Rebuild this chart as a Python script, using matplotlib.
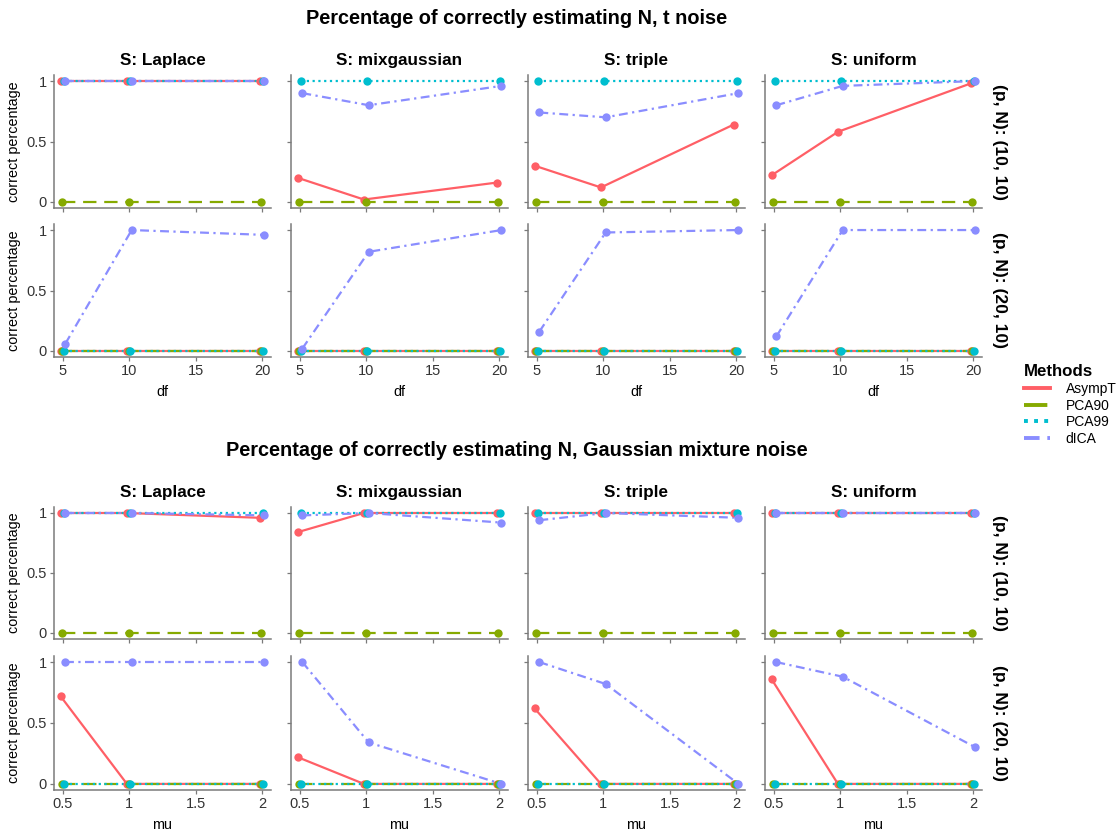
import matplotlib.pyplot as plt
from matplotlib.lines import Line2D

plt.rcParams['font.family'] = ['Liberation Sans', 'DejaVu Sans']

methods = ['AsympT', 'PCA90', 'PCA99', 'dICA']
sources = ['Laplace', 'mixgaussian', 'triple', 'uniform']
settings = ['(p, N): (10, 10)', '(p, N): (20, 10)']

df_vals = [5, 10, 20]
mu_vals = [0.5, 1, 2]

# t noise, one row per source (Laplace, mixgaussian, triple, uniform)
t_asympt_p10 = [[1, 1, 1], [0.20, 0.02, 0.16], [0.30, 0.12, 0.64], [0.22, 0.58, 0.98]]
t_pca90_p10 = [[0, 0, 0], [0, 0, 0], [0, 0, 0], [0, 0, 0]]
t_pca99_p10 = [[1, 1, 1], [1, 1, 1], [1, 1, 1], [1, 1, 1]]
t_dica_p10 = [[1, 1, 1], [0.90, 0.80, 0.96], [0.74, 0.70, 0.90], [0.80, 0.96, 1.0]]

t_asympt_p20 = [[0, 0, 0], [0, 0, 0], [0, 0, 0], [0, 0, 0]]
t_pca90_p20 = [[0, 0, 0], [0, 0, 0], [0, 0, 0], [0, 0, 0]]
t_pca99_p20 = [[0, 0, 0], [0, 0, 0], [0, 0, 0], [0, 0, 0]]
t_dica_p20 = [[0.06, 1.0, 0.96], [0.02, 0.82, 1.0], [0.16, 0.98, 1.0], [0.12, 1.0, 1.0]]

# Gaussian mixture noise
g_asympt_p10 = [[1, 1, 0.96], [0.84, 1, 1], [1, 1, 1], [1, 1, 1]]
g_pca90_p10 = [[0, 0, 0], [0, 0, 0], [0, 0, 0], [0, 0, 0]]
g_pca99_p10 = [[1, 1, 1], [1, 1, 1], [1, 1, 1], [1, 1, 1]]
g_dica_p10 = [[1, 1, 0.98], [0.98, 1, 0.92], [0.94, 1, 0.96], [1, 1, 1]]

g_asympt_p20 = [[0.72, 0, 0], [0.22, 0, 0], [0.62, 0, 0], [0.86, 0, 0]]
g_pca90_p20 = [[0, 0, 0], [0, 0, 0], [0, 0, 0], [0, 0, 0]]
g_pca99_p20 = [[0, 0, 0], [0, 0, 0], [0, 0, 0], [0, 0, 0]]
g_dica_p20 = [[1, 1, 1], [1.0, 0.34, 0.0], [1.0, 0.82, 0.0], [1.0, 0.88, 0.30]]

colors = ['#FF5F66', '#86AA00', '#00BECF', '#8A8DFF']
dashes = [None, (6, 3.5), (1, 1.6), (4, 2, 1, 2)]
dodge = [-0.012, -0.004, 0.004, 0.012]

W, H = 1120, 833
fig = plt.figure(figsize=(W / 100, H / 100), dpi=100)

col_left = [54, 291, 528, 765]
panel_w = 217
axis_grey = '#7a7a7a'


def add_panel(left, top, bottom):
    return fig.add_axes([left / W, 1 - bottom / H, panel_w / W, (bottom - top) / H])


def draw_block(series, xs, xlabel, title, title_y, rows):
    fig.text(517 / W, 1 - title_y / H, title, ha='center', va='center',
             fontsize=14.3, fontweight='bold')
    span = xs[-1] - xs[0]
    for r, (top, bottom) in enumerate(rows):
        for c in range(4):
            ax = add_panel(col_left[c], top, bottom)
            # lines first, then the points on top
            for m in range(4):
                xd = [x + dodge[m] * span for x in xs]
                ln, = ax.plot(xd, series[r][m][c], color=colors[m], lw=1.6,
                              solid_capstyle='butt', zorder=2)
                if dashes[m] is not None:
                    ln.set_dashes(dashes[m])
            for m in range(4):
                xd = [x + dodge[m] * span for x in xs]
                ax.plot(xd, series[r][m][c], 'o', color=colors[m], ms=6,
                        mec='none', zorder=3, clip_on=False)
            ax.set_xlim(xs[0] - 0.045 * span, xs[-1] + 0.045 * span)
            ax.set_ylim(-0.05, 1.05)
            ax.set_yticks([0, 0.5, 1])
            if xlabel == 'mu':
                ax.set_xticks([0.5, 1, 1.5, 2])
                ax.set_xticklabels(['0.5', '1', '1.5', '2'])
            else:
                ax.set_xticks([5, 10, 15, 20])
            for s in ['top', 'right']:
                ax.spines[s].set_visible(False)
            for s in ['left', 'bottom']:
                ax.spines[s].set_color(axis_grey)
                ax.spines[s].set_linewidth(1.1)
            ax.tick_params(color=axis_grey, length=3, width=0.9,
                           labelsize=10.5, labelcolor='#333333', pad=2)
            if c == 0:
                ax.set_yticklabels(['0', '0.5', '1'])
                ax.set_ylabel('correct percentage', fontsize=10.4, labelpad=4)
            else:
                ax.set_yticklabels([])
            if r == len(rows) - 1:
                ax.set_xlabel(xlabel, fontsize=10.4, labelpad=5)
            else:
                ax.set_xticklabels([])
            if r == 0:
                ax.set_title('S: ' + sources[c], fontsize=12.3, fontweight='bold', pad=7)
            if c == 3:
                ax.text(1.08, 0.5, settings[r], transform=ax.transAxes, rotation=-90,
                        ha='center', va='center', fontsize=12.6, fontweight='bold')


t_series = [[t_asympt_p10, t_pca90_p10, t_pca99_p10, t_dica_p10],
            [t_asympt_p20, t_pca90_p20, t_pca99_p20, t_dica_p20]]
g_series = [[g_asympt_p10, g_pca90_p10, g_pca99_p10, g_dica_p10],
            [g_asympt_p20, g_pca90_p20, g_pca99_p20, g_dica_p20]]

draw_block(t_series, df_vals, 'df', 'Percentage of correctly estimating N, t noise',
           18, [(75, 208), (224, 357)])
draw_block(g_series, mu_vals, 'mu', 'Percentage of correctly estimating N, Gaussian mixture noise',
           450, [(507, 639), (656, 790)])

handles = []
for m in range(4):
    h = Line2D([0], [0], color=colors[m], lw=2.8)
    if dashes[m] is not None:
        h.set_dashes(dashes[m])
    handles.append(h)
leg = fig.legend(handles, methods, title='Methods', loc='upper left',
                 bbox_to_anchor=(1024 / W, 1 - 364 / H), frameon=False,
                 fontsize=10, handlelength=1.9, handletextpad=1.1,
                 labelspacing=0.2, borderaxespad=0, borderpad=0)
leg.get_title().set_fontweight('bold')
leg.get_title().set_fontsize(12.2)
leg._legend_box.align = 'left'

fig.savefig('out.png', dpi=100)
